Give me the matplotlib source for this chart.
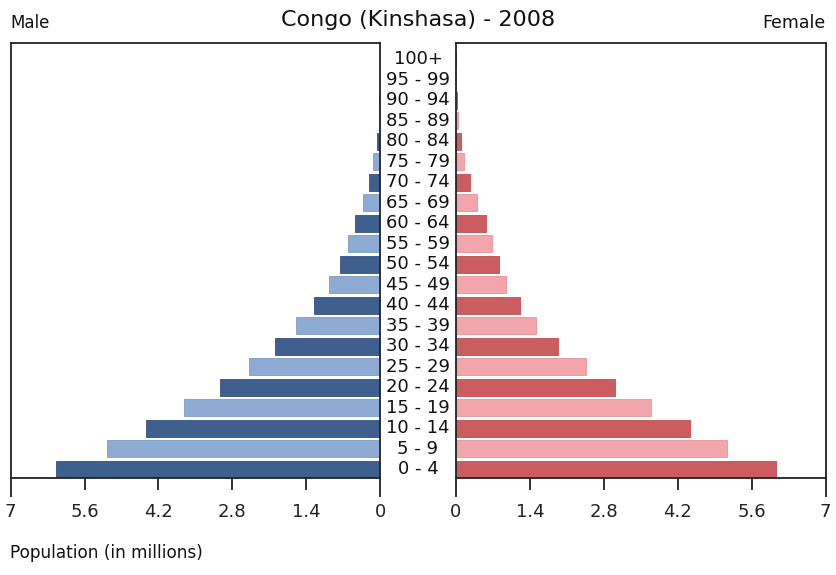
import matplotlib
matplotlib.use("Agg")
import matplotlib.pyplot as plt
from matplotlib.transforms import blended_transform_factory

age_groups = ["0 - 4", "5 - 9", "10 - 14", "15 - 19", "20 - 24", "25 - 29", "30 - 34",
              "35 - 39", "40 - 44", "45 - 49", "50 - 54", "55 - 59", "60 - 64", "65 - 69",
              "70 - 74", "75 - 79", "80 - 84", "85 - 89", "90 - 94", "95 - 99", "100+"]
male = [6.15, 5.18, 4.44, 3.71, 3.03, 2.48, 1.99, 1.59, 1.25, 0.97, 0.75,
        0.60, 0.47, 0.32, 0.21, 0.13, 0.06, 0.02, 0.01, 0.005, 0.002]
female = [6.05, 5.13, 4.43, 3.69, 3.02, 2.46, 1.94, 1.52, 1.21, 0.95, 0.82,
          0.69, 0.56, 0.40, 0.27, 0.16, 0.09, 0.03, 0.01, 0.005, 0.002]
tick_vals = [1.4, 2.8, 4.2, 5.6]
tick_labels = ["1.4", "2.8", "4.2", "5.6"]
end_vals = [0, 7]
end_labels = ["0", "7"]

male_colors = ["#3f5f8e", "#8eabd3"]
female_colors = ["#cb5d61", "#f2a6ab"]
male_edges = ["#34527e", "#7f9dc6"]
female_edges = ["#b94f54", "#e3979c"]

W, H = 837, 575
fig = plt.figure(figsize=(W / 100, H / 100), dpi=100)
fig.patch.set_facecolor("white")

bottom = 1 - 477.7 / H
height = (477.7 - 42.7) / H
axL = fig.add_axes([10.7 / W, bottom, (380 - 10.7) / W, height])
axR = fig.add_axes([456 / W, bottom, (825.7 - 456) / W, height])

y = list(range(len(age_groups)))
mc = [male_colors[i % 2] for i in y]
fc = [female_colors[i % 2] for i in y]
me = [male_edges[i % 2] for i in y]
fe = [female_edges[i % 2] for i in y]

axL.barh(y, male, height=0.83, color=mc, edgecolor=me, linewidth=0.6)
axR.barh(y, female, height=0.83, color=fc, edgecolor=fe, linewidth=0.6)

axL.set_xlim(7, 0)
axR.set_xlim(0, 7)
for ax in (axL, axR):
    ax.set_ylim(-0.415, 20.8)
    ax.set_yticks([])
    for s in ax.spines.values():
        s.set_color("#222222")
        s.set_linewidth(1.3)
    ax.set_xticks(end_vals, end_labels)
    ax.set_xticks(tick_vals, tick_labels, minor=True)
    ax.tick_params(axis="x", which="major", length=14, width=1.3, color="#222222",
                   labelsize=13, pad=4, labelcolor="#222222")
    ax.tick_params(axis="x", which="minor", length=8.5, width=1.3, color="#222222",
                   labelsize=13, pad=9.5, labelcolor="#222222")

trans = blended_transform_factory(fig.transFigure, axL.transData)
for i, lab in enumerate(age_groups):
    fig.text(418 / W, i, lab, transform=trans, ha="center", va="center",
             fontsize=13, color="#111111")

fig.text(418 / W, 1 - 20 / H, "Congo (Kinshasa) - 2008", ha="center", va="center",
         fontsize=16, color="#111111")
fig.text(10 / W, 1 - 23 / H, "Male", ha="left", va="center", fontsize=12, color="#111111")
fig.text(826 / W, 1 - 23 / H, "Female", ha="right", va="center", fontsize=12.5, color="#111111")
fig.text(10 / W, 1 - 553 / H, "Population (in millions)", ha="left", va="center",
         fontsize=12.2, color="#111111")

fig.savefig("out.png", dpi=100, facecolor="white")
